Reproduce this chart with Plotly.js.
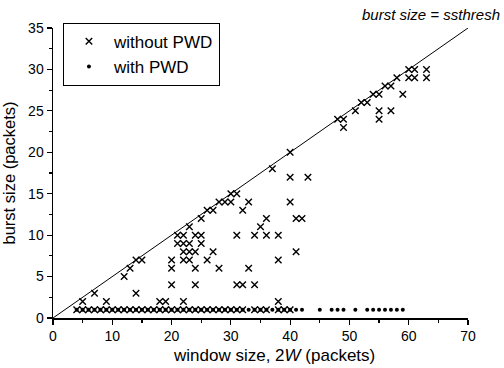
<!DOCTYPE html>
<html>
<head>
<meta charset="utf-8">
<script src="https://cdn.plot.ly/plotly-3.0.1.min.js"></script>
<style>html,body{margin:0;padding:0;background:#fff;}#chart{width:504px;height:368px;}</style>
</head>
<body>
<div id="chart"></div>
<script>
// without PWD: bursts above 1 packet
var withoutX = [5,7,9,12,13,14,14,15,18,19,20,20,20,22,21,22,23,21,22,23,22,23,24,22,23,24,25,25,25,24,24,26,27,26,27,28,28,29,30,30,31,31,31,32,32,33,33,34,34,35,36,36,37,38,38,38,40,40,40,41,41,42,43,48,49,49,51,52,53,54,55,55,55,57,56,57,58,59,60,61,60,61,63,63];
var withoutY = [2,3,2,5,6,3,7,7,2,2,4,6,7,2,10,10,11,9,9,9,8,8,8,7,7,10,10,12,9,6,4,7,8,13,13,6,14,14,14,15,15,10,4,4,13,14,6,10,4,11,12,10,18,10,7,2,20,17,14,8,12,12,17,24,24,23,25,26,26,27,27,25,24,25,28,28,29,27,30,30,29,29,30,29];
// without PWD: single-packet bursts
var withoutOneX = [4,5,6,7,8,9,10,11,12,13,14,15,16,17,18,19,20,21,22,23,24,25,26,27,28,29,30,31,32,34,35,36,38,39,40];
var withoutOneY = [1,1,1,1,1,1,1,1,1,1,1,1,1,1,1,1,1,1,1,1,1,1,1,1,1,1,1,1,1,1,1,1,1,1,1];
// with PWD
var withX = [4,5,6,7,8,9,10,11,12,13,14,15,16,17,18,19,20,21,22,23,24,25,26,27,28,29,30,31,32,33,34,35,36,37,38,39,40,41,42,45,47,48,49,51,53,54,55,56,57,58,59];
var withY = [1,1,1,1,1,1,1,1,1,1,1,1,1,1,1,1,1,1,1,1,1,1,1,1,1,1,1,1,1,1,1,1,1,1,1,1,1,1,1,1,1,1,1,1,1,1,1,1,1,1,1];
// reference line: burst size = ssthresh = W
var lineX = [0,70];
var lineY = [0,35];
var xTicks = [0,10,20,30,40,50,60,70];
var yTicks = [0,5,10,15,20,25,30,35];

var F = '"Liberation Sans", Arial, Helvetica, sans-serif';
var traces = [
  {x: lineX, y: lineY, mode: 'lines', line: {color: '#000', width: 1}, showlegend: false, hoverinfo: 'skip'},
  {x: withoutX.concat(withoutOneX), y: withoutY.concat(withoutOneY), mode: 'markers', name: 'without PWD',
   marker: {symbol: 'x-thin-open', size: 6.5, color: '#000', line: {color: '#000', width: 1.4}}},
  {x: withX, y: withY, mode: 'markers', name: 'with PWD',
   marker: {symbol: 'circle', size: 4, color: '#000'}}
];
var layout = {
  width: 504, height: 368,
  margin: {l: 53, r: 36, t: 28, b: 50, pad: 0},
  paper_bgcolor: '#fff', plot_bgcolor: '#fff',
  font: {family: F, color: '#000', size: 14},
  showlegend: true,
  legend: {x: 0.024, y: 1.018, xanchor: 'left', yanchor: 'top', bordercolor: '#000', borderwidth: 1,
           bgcolor: '#fff', font: {family: F, size: 17, color: '#000'}, itemwidth: 40, tracegroupgap: 0},
  xaxis: {range: [0, 70], tickvals: xTicks, ticks: 'outside', ticklen: 5, tickwidth: 1.2, tickcolor: '#000',
          showline: true, linecolor: '#000', linewidth: 1.5, showgrid: false, zeroline: false,
          tickfont: {family: F, size: 14, color: '#000'},
          minor: {dtick: 5, ticks: 'outside', ticklen: 3, tickcolor: '#000', showgrid: false}},
  yaxis: {range: [0, 35], tickvals: yTicks, ticks: 'outside', ticklen: 5, tickwidth: 1.2, tickcolor: '#000',
          showline: true, linecolor: '#000', linewidth: 1.5, showgrid: false, zeroline: false,
          tickfont: {family: F, size: 14, color: '#000'},
          title: {text: 'burst size (packets)', font: {family: F, size: 16.5, color: '#000'}, standoff: 8},
          minor: {dtick: 2.5, ticks: 'outside', ticklen: 3, tickcolor: '#000', showgrid: false}},
  annotations: [
    {text: 'window size, 2<i>W</i> (packets)', xref: 'paper', yref: 'paper', x: 0.532, y: -0.128,
     xanchor: 'center', yanchor: 'middle', showarrow: false, font: {family: F, size: 17, color: '#000'}},
    {text: '<i>burst size = ssthresh</i>', xref: 'paper', yref: 'paper', x: 1.082, y: 1.048,
     xanchor: 'right', yanchor: 'middle', showarrow: false, font: {family: F, size: 15, color: '#000'}}
  ]
};
Plotly.newPlot('chart', traces, layout, {staticPlot: true, displayModeBar: false});
</script>
</body>
</html>
